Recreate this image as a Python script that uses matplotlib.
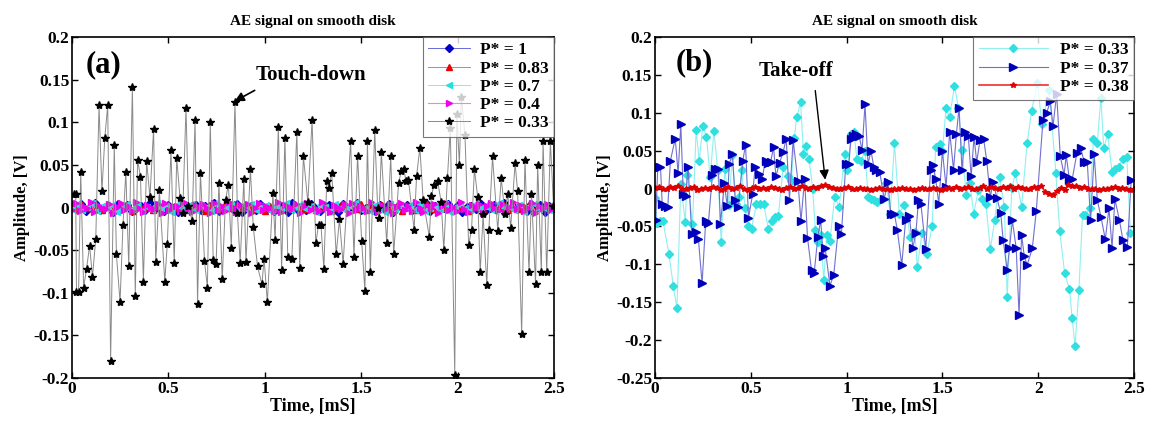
import numpy as np
import matplotlib
matplotlib.use("Agg")
from matplotlib import pyplot as plt
from matplotlib.ticker import FuncFormatter

plt.rcParams['font.family'] = ['Liberation Serif', 'DejaVu Serif']
plt.rcParams['font.weight'] = 'bold'
plt.rcParams['axes.unicode_minus'] = False

# ---- (a) touch-down: P* = 0.33 signal, [ms] / [V]
t_a33 = [0.009, 0.019, 0.023, 0.034, 0.045, 0.060, 0.075, 0.091, 0.106, 0.123,
         0.140, 0.155, 0.170, 0.185, 0.200, 0.219, 0.230, 0.249, 0.264, 0.279,
         0.294, 0.313, 0.328, 0.340, 0.355, 0.370, 0.387, 0.404, 0.423, 0.434,
         0.453, 0.481, 0.494, 0.513, 0.530, 0.543, 0.560, 0.574, 0.591, 0.604,
         0.623, 0.638, 0.651, 0.666, 0.687, 0.702, 0.717, 0.732, 0.747, 0.762,
         0.779, 0.796, 0.811, 0.826, 0.845, 0.858, 0.872, 0.891, 0.902, 0.925,
         0.940, 0.962, 0.985, 0.996, 1.013, 1.042, 1.053, 1.070, 1.087, 1.104,
         1.119, 1.140, 1.166, 1.181, 1.200, 1.223, 1.245, 1.264, 1.279, 1.291,
         1.306, 1.321, 1.332, 1.347, 1.370, 1.387, 1.406, 1.445, 1.462, 1.481,
         1.502, 1.519, 1.532, 1.547, 1.570, 1.585, 1.592, 1.604, 1.632, 1.653,
         1.668, 1.694, 1.708, 1.721, 1.732, 1.745, 1.774, 1.787, 1.804, 1.821,
         1.853, 1.864, 1.877, 1.896, 1.915, 1.928, 1.947, 1.962, 1.985, 1.996,
         2.009, 2.019, 2.038, 2.057, 2.072, 2.087, 2.104, 2.117, 2.132, 2.151,
         2.162, 2.181, 2.208, 2.226, 2.245, 2.260, 2.275, 2.298, 2.311, 2.332,
         2.349, 2.370, 2.383, 2.404, 2.415, 2.434, 2.443, 2.462, 2.481, 2.497]
v_a33 = [0.016, 0.016, -0.099, -0.099, 0.042, -0.094, -0.072, -0.045, -0.081, -0.037,
         0.120, 0.019, 0.082, 0.120, -0.180, 0.073, -0.055, -0.111, -0.021, 0.042,
         -0.069, 0.141, -0.104, 0.056, 0.036, -0.087, 0.054, 0.012, 0.092, -0.064,
         0.020, -0.087, -0.043, 0.067, -0.065, 0.058, 0.011, -0.007, 0.117, 0.002,
         -0.016, 0.103, -0.113, 0.041, -0.063, -0.094, 0.100, -0.061, -0.066, 0.029,
         -0.084, 0.009, 0.027, -0.047, 0.124, -0.007, -0.065, 0.033, -0.064, 0.045,
         -0.023, -0.069, -0.090, -0.060, -0.111, 0.017, -0.038, 0.095, -0.073, 0.082,
         -0.058, -0.060, 0.089, -0.071, 0.060, 0.006, 0.103, -0.042, -0.020, -0.020,
         -0.072, 0.031, 0.023, 0.041, -0.055, -0.014, -0.066, 0.078, -0.058, 0.061,
         -0.039, -0.098, 0.078, -0.076, 0.091, -0.001, -0.012, 0.065, -0.042, 0.060,
         -0.055, 0.029, 0.043, 0.045, 0.031, 0.032, -0.026, 0.037, 0.070, 0.009,
         -0.034, 0.014, 0.026, 0.031, 0.006, -0.050, 0.035, 0.093, -0.196, 0.110,
         0.050, 0.130, 0.085, -0.044, -0.026, 0.045, 0.012, -0.076, -0.008, -0.091,
         -0.026, 0.060, -0.027, 0.035, -0.008, 0.016, -0.024, 0.052, 0.019, -0.148,
         0.056, -0.076, 0.016, -0.090, 0.050, -0.076, 0.078, -0.076, 0.078, 0.002]

# flying cases, [mV]
mv_a1 = [3, -2, 4, -4, 1, 5, -3, 0, 2, -5, 4, -1, 3, -4, 0, 2, -3, 5, -2, 1,
         -4, 3, 0, -5, 4, -2, 1, 3, -3, 2, -1, 5, -4, 0, 3, -2, 4, -5, 1, 2,
         -3, 4, -1, 0, -4, 3, 2, -5, 5, -2, 1, -3, 4, 0, -4, 2, 3, -1, -5, 4,
         -2, 1, 5, -3, 0, 2, -4, 3, -1, 4, -5, 2, 0, 3, -3, 1, -2, 5, -4, 2,
         0, -1, 4, -3, 3, -5, 1, 2, -2, 4, -4, 0, 3, -1, 5, -3, 2, -2, 1, -4,
         4, -1, 3, -5, 2, 0]
mv_a083 = [1, -2, 3, -1, 0, 2, -3, 4, -2, 1, 0, 3, -4, 2, -1, 1, -3, 2, 4, -2,
           0, -1, 3, -3, 2, 1, -4, 3, 0, -2, 2, -1, 4, -3, 1, 0, -2, 3, -4, 2,
           1, -3, 2, 0, 4, -1, -2, 3, -3, 1, 2, -4, 0, 3, -1, 2, -2, 4, -3, 0,
           1, 3, -2, -1, 2, -4, 3, 1, -3, 0, 4, -2, 1, -1, 3, -3, 2, 0, -4, 2,
           1, -2, 3, -1, 0, 4, -3, 2, -2, 1, 3, -4, 0, 2, -1, 1]
mv_a07 = [-2, 4, -3, 1, 5, -4, 2, -1, 3, -5, 0, 4, -2, 3, -4, 1, -3, 5, -1, 2,
          -5, 3, 0, -2, 4, -3, 2, 1, -4, 5, -1, 0, 3, -5, 2, -2, 4, -3, 1, 3,
          -4, 2, -1, 5, -3, 0, 4, -2, 2, -5, 3, 1, -4, 4, -1, -3, 2, 5, -2, 0,
          -4, 3, 1, -5, 4, -2, 2, -1, 3, -3, 5, -4, 0, 2, -2, 4, -5, 1, 3, -1,
          -3, 4, -2, 2, 0, -4, 5, -1, 1, -3, 3, -5, 2, 4, -2, 0, -3, 1]
mv_a04 = [-3, 5, -4, 2, -1, 6, -5, 3, 0, -2, 4, -6, 1, 5, -3, 2, -4, 6, -1, -5,
          3, 0, -2, 4, -6, 5, -3, 1, 2, -4, 6, -2, -5, 3, 0, 4, -1, -6, 5, -3,
          2, -4, 6, 1, -5, 3, -2, 4, -6, 0, 5, -3, 2, -1, -4, 6, -5, 3, 1, -2,
          4, -6, 2, 5, -3, 0, -4, 6, -1, -5, 3, 1, -2, 4, -6, 5, -3, 2, 0, -4,
          6, -1, -5, 3, -2, 4, -6, 1, 5, -3, 2, -4, 6, 0, -5, 3, -1, 4, -6, 2,
          5, -3, 1, -4, 6, -2, -5, 3, 0, 4, -6, 2, 5, -1, -3, 4, -5, 1, 6, -2,
          3, -4, 0, 5, -6, 2, -1, 4, -3, 1]

# ---- (b) take-off
t_b33 = [0.000, 0.012, 0.027, 0.042, 0.073, 0.096, 0.115, 0.135, 0.158, 0.169,
         0.196, 0.215, 0.231, 0.250, 0.269, 0.288, 0.308, 0.327, 0.346, 0.365,
         0.385, 0.404, 0.423, 0.438, 0.452, 0.471, 0.485, 0.504, 0.529, 0.548,
         0.567, 0.592, 0.612, 0.625, 0.644, 0.669, 0.692, 0.712, 0.727, 0.740,
         0.760, 0.775, 0.788, 0.804, 0.823, 0.837, 0.850, 0.865, 0.881, 0.896,
         0.913, 0.938, 0.962, 0.990, 1.004, 1.023, 1.038, 1.054, 1.073, 1.096,
         1.112, 1.127, 1.144, 1.160, 1.183, 1.208, 1.227, 1.250, 1.275, 1.298,
         1.317, 1.331, 1.356, 1.369, 1.394, 1.419, 1.446, 1.465, 1.485, 1.500,
         1.519, 1.538, 1.563, 1.583, 1.602, 1.625, 1.644, 1.663, 1.688, 1.708,
         1.727, 1.750, 1.773, 1.798, 1.823, 1.838, 1.862, 1.881, 1.913, 1.942,
         1.965, 1.996, 2.019, 2.058, 2.092, 2.112, 2.138, 2.163, 2.177, 2.192,
         2.212, 2.231, 2.246, 2.269, 2.288, 2.308, 2.327, 2.342, 2.362, 2.385,
         2.400, 2.419, 2.442, 2.462, 2.481]
v_b33 = [-0.012, -0.045, -0.043, -0.043, -0.086, -0.129, -0.158, 0.006, -0.044, 0.018,
         -0.047, 0.077, 0.037, 0.083, 0.068, 0.015, 0.076, 0.025, -0.071, 0.026,
         -0.022, 0.044, -0.020, -0.011, 0.024, -0.026, -0.049, -0.053, -0.021, -0.021,
         -0.020, -0.053, -0.043, -0.038, -0.036, 0.028, 0.016, 0.010, 0.067, 0.094,
         0.114, 0.046, 0.056, 0.039, 0.000, -0.055, -0.070, -0.061, -0.121, -0.061,
         -0.069, -0.011, -0.024, 0.046, 0.024, 0.072, 0.075, 0.039, 0.036, 0.050,
         -0.011, -0.014, -0.015, -0.018, -0.014, 0.007, -0.033, 0.060, -0.033, -0.022,
         -0.037, -0.064, -0.057, -0.103, -0.059, -0.086, -0.050, 0.055, 0.059, 0.050,
         0.107, 0.094, 0.136, 0.107, 0.051, -0.009, 0.007, -0.033, -0.002, -0.014,
         -0.020, -0.080, -0.042, 0.015, -0.024, -0.143, 0.001, 0.020, -0.024, 0.060,
         0.102, 0.140, 0.085, 0.130, 0.020, -0.056, -0.112, -0.133, -0.171, -0.208,
         -0.134, -0.035, -0.035, -0.026, 0.066, 0.060, 0.120, 0.053, 0.072, 0.022,
         0.026, 0.029, 0.039, 0.042, -0.059]

t_b37 = [0.004, 0.015, 0.029, 0.038, 0.054, 0.067, 0.081, 0.106, 0.121, 0.135,
         0.148, 0.160, 0.173, 0.192, 0.212, 0.227, 0.246, 0.265, 0.279, 0.300,
         0.315, 0.331, 0.342, 0.362, 0.377, 0.388, 0.404, 0.419, 0.435, 0.458,
         0.473, 0.488, 0.510, 0.523, 0.542, 0.558, 0.577, 0.592, 0.604, 0.619,
         0.631, 0.650, 0.669, 0.685, 0.702, 0.721, 0.746, 0.762, 0.781, 0.796,
         0.817, 0.831, 0.850, 0.865, 0.877, 0.888, 0.913, 0.933, 0.958, 0.973,
         0.996, 1.012, 1.023, 1.035, 1.048, 1.065, 1.081, 1.096, 1.112, 1.127,
         1.142, 1.154, 1.173, 1.196, 1.215, 1.231, 1.250, 1.265, 1.288, 1.308,
         1.327, 1.346, 1.362, 1.375, 1.388, 1.413, 1.438, 1.452, 1.465, 1.481,
         1.500, 1.519, 1.538, 1.558, 1.573, 1.587, 1.602, 1.619, 1.635, 1.650,
         1.665, 1.679, 1.696, 1.715, 1.731, 1.750, 1.765, 1.785, 1.804, 1.817,
         1.838, 1.850, 1.865, 1.885, 1.900, 1.913, 1.927, 1.942, 1.969, 1.990,
         2.025, 2.044, 2.063, 2.077, 2.096, 2.115, 2.135, 2.146, 2.163, 2.177,
         2.202, 2.221, 2.240, 2.256, 2.273, 2.292, 2.308, 2.327, 2.350, 2.369,
         2.385, 2.400, 2.423, 2.442, 2.465, 2.485]
v_b37 = [-0.042, 0.029, 0.029, -0.020, -0.023, -0.024, 0.037, 0.066, 0.020, 0.085,
         -0.007, -0.010, 0.029, -0.060, -0.057, -0.067, -0.125, -0.043, -0.045, 0.018,
         0.026, 0.026, -0.047, 0.007, -0.023, 0.033, 0.045, -0.015, -0.024, 0.036,
         0.058, -0.039, -0.007, 0.029, 0.019, 0.012, 0.037, 0.034, 0.035, 0.055,
         0.016, 0.034, 0.048, 0.066, -0.015, 0.064, 0.010, -0.043, 0.013, -0.065,
         -0.108, -0.111, -0.064, -0.041, -0.089, -0.078, -0.128, -0.114, -0.050, -0.060,
         0.033, 0.033, 0.066, 0.070, 0.072, 0.070, 0.051, 0.111, 0.032, 0.050,
         0.029, 0.024, 0.022, -0.014, 0.009, -0.034, -0.034, -0.055, -0.101, -0.041,
         -0.036, -0.078, -0.058, -0.015, -0.021, -0.080, 0.024, 0.031, 0.012, -0.020,
         0.050, 0.002, 0.075, 0.025, 0.072, 0.107, 0.024, 0.075, 0.070, 0.016,
         0.068, 0.035, 0.064, 0.066, 0.037, -0.011, 0.009, -0.013, -0.032, -0.068,
         -0.108, -0.079, -0.042, -0.079, -0.167, -0.061, -0.089, -0.101, -0.079, -0.029,
         0.091, 0.100, 0.115, 0.082, 0.125, 0.043, 0.018, 0.044, 0.011, 0.012,
         0.047, 0.054, 0.035, 0.035, -0.042, 0.045, -0.015, -0.037, -0.067, -0.026,
         -0.078, -0.014, -0.041, -0.068, -0.077, 0.011]

mv_b38 = [1, 2, 0, -1, 2, 1, 3, 0, -1, 1, 2, -2, 0, 1, -1, 2, 1, -2, 0, 2,
          -1, 1, 3, 0, -2, 1, 2, 0, 1, -1, 2, 1, 0, -2, 1, 2, 0, 1, 3, 1,
          0, 2, 1, 3, 5, 2, 1, -1, 0, 1, 2, 0, -1, 1, 0, -1, -2, 0, 1, -1,
          0, -2, -1, 0, 1, -1, 0, -2, -1, 1, 0, -1, 1, 0, -2, 0, 1, -1, 2, 0,
          1, 2, 0, -1, 1, 3, 0, 2, 1, -1, 2, 1, 3, 0, 2, 1, -1, 0, 2, 1,
          3, -4, -7, -8, -3, 1, -2, 5, 4, 3, 1, 2, 0, -1, 0, -2, -1, 0, 1, 2,
          0, 1, -1, -2, -1]


def fmt(v, pos):
    return '%g' % round(v, 3)


def style_axes(ax, ylim, yticks):
    ax.set_xlim(0, 2.5)
    ax.set_ylim(*ylim)
    ax.set_xticks([0, 0.5, 1, 1.5, 2, 2.5])
    ax.set_yticks(yticks)
    ax.xaxis.set_major_formatter(FuncFormatter(fmt))
    ax.yaxis.set_major_formatter(FuncFormatter(fmt))
    ax.tick_params(direction='in', top=True, right=True, length=4, width=1, labelsize=12.5, pad=2)
    for s in ax.spines.values():
        s.set_linewidth(1.2)
    ax.set_xlabel('Time, [mS]', fontsize=13, fontweight='bold', labelpad=1)
    ax.set_ylabel('Amplitude, [V]', fontsize=12, fontweight='bold', labelpad=2)
    ax.set_title('AE signal on smooth disk', fontsize=11, fontweight='bold', pad=9)


def style_legend(leg):
    leg.get_frame().set_edgecolor('#555555')
    leg.get_frame().set_linewidth(0.8)
    for txt in leg.get_texts():
        txt.set_fontweight('bold')


fig = plt.figure(figsize=(11.49, 4.23), dpi=100)
ax1 = fig.add_axes([0.0627, 0.1064, 0.4195, 0.806])
ax2 = fig.add_axes([0.570, 0.1064, 0.417, 0.806])

# ---- panel (a)
t1 = np.linspace(0, 2.5, len(mv_a1))
t083 = np.linspace(0, 2.5, len(mv_a083))
t07 = np.linspace(0, 2.5, len(mv_a07))
t04 = np.linspace(0, 2.5, len(mv_a04))
ax1.plot(t1, np.array(mv_a1) / 1000, '-D', color='#6a6adc', lw=0.7, ms=4,
         mfc='#0000c8', mec='#0000c8', label='P* = 1')
ax1.plot(t083, np.array(mv_a083) / 1000, '-^', color='#f07070', lw=0.7, ms=4,
         mfc='#ee0000', mec='#ee0000', label='P* = 0.83')
ax1.plot(t07, np.array(mv_a07) / 1000, '-<', color='#80eeee', lw=0.7, ms=4,
         mfc='#22e0e0', mec='#22e0e0', label='P* = 0.7')
ax1.plot(t04, np.array(mv_a04) / 1000, '->', color='#f080f0', lw=0.8, ms=4.5,
         mfc='#ee00ee', mec='#ee00ee', label='P* = 0.4')
ax1.plot(t_a33, v_a33, '-*', color='#8a8a8a', lw=0.7, ms=6,
         mfc='k', mec='k', label='P* = 0.33')
style_axes(ax1, (-0.2, 0.2), [-0.2, -0.15, -0.1, -0.05, 0, 0.05, 0.1, 0.15, 0.2])
ax1.text(0.07, 0.168, '(a)', fontsize=22, fontweight='bold', va='center')
ax1.text(0.95, 0.155, 'Touch-down', fontsize=15, fontweight='bold', va='center')
ax1.annotate('', xy=(0.83, 0.123), xytext=(0.96, 0.139),
             arrowprops=dict(arrowstyle='-|>', color='k', lw=1.2, mutation_scale=14))
leg1 = ax1.legend(loc='upper right', fontsize=12.5, frameon=True, fancybox=False,
                  borderaxespad=0, handlelength=2.4, labelspacing=0.12,
                  borderpad=0.3, handletextpad=0.6)
style_legend(leg1)

# ---- panel (b)
t38 = np.linspace(0, 2.5, len(mv_b38))
ax2.plot(t_b33, v_b33, '-D', color='#90f0f0', lw=0.8, ms=4.5,
         mfc='#30e0e0', mec='#30e0e0', label='P* = 0.33')
ax2.plot(t_b37, v_b37, '->', color='#7070d0', lw=0.8, ms=5.5,
         mfc='#0000bb', mec='#0000bb', label='P* = 0.37')
ax2.plot(t38, np.array(mv_b38) / 1000, '-*', color='#ee3030', lw=1.2, ms=4,
         mfc='#dd0000', mec='#dd0000', label='P* = 0.38')
style_axes(ax2, (-0.25, 0.2), [-0.25, -0.2, -0.15, -0.1, -0.05, 0, 0.05, 0.1, 0.15, 0.2])
ax2.text(0.11, 0.166, '(b)', fontsize=22, fontweight='bold', va='center')
ax2.text(0.54, 0.155, 'Take-off', fontsize=15, fontweight='bold', va='center')
ax2.annotate('', xy=(0.89, 0.008), xytext=(0.835, 0.133),
             arrowprops=dict(arrowstyle='-|>', color='k', lw=1.0, mutation_scale=14))
leg2 = ax2.legend(loc='upper right', fontsize=12.5, frameon=True, fancybox=False,
                  borderaxespad=0, handlelength=4.0, labelspacing=0.12,
                  borderpad=0.3, handletextpad=0.7)
style_legend(leg2)

fig.savefig('out.png', dpi=100)
